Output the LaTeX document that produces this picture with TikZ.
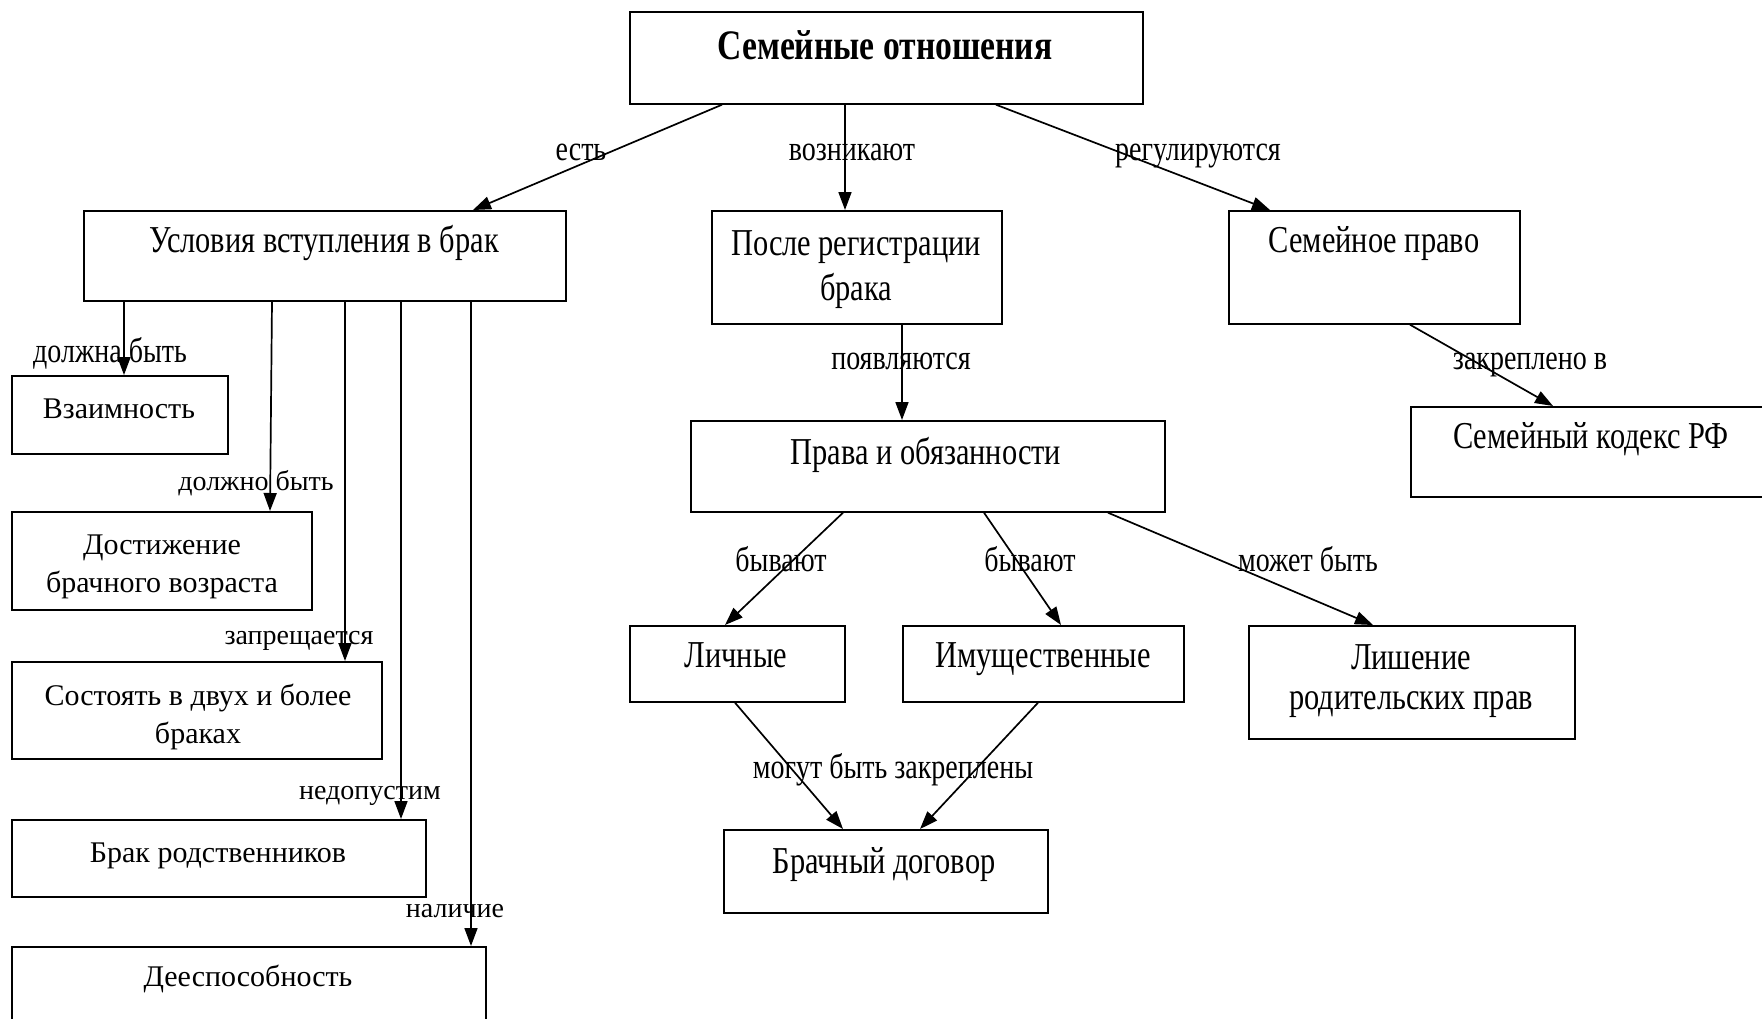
\documentclass[tikz,border=0pt]{standalone}
\usepackage{fontspec}
\setmainfont{Liberation Serif}
\newfontfamily\condf[FakeStretch=0.8]{Liberation Serif}
\usetikzlibrary{arrows.meta,calc}
\begin{document}
\begin{tikzpicture}[x=1pt,y=-1pt,
  box/.style={draw, line width=1.7pt, anchor=north west, inner sep=0pt},
  arr/.style={line width=1.7pt, -{Triangle[length=18pt,width=13pt]}},
  title/.style={font=\condf\bfseries\fontsize{42}{48}\selectfont, inner sep=0pt, text height=30pt, text depth=2pt},
  ctext/.style={font=\condf\fontsize{38}{45}\selectfont, inner sep=0pt, text height=27pt, text depth=2pt},
  ctextm/.style={font=\condf\fontsize{38}{45}\selectfont, inner sep=0pt, align=center},
  ctextn/.style={font=\condf\fontsize{38}{40}\selectfont, inner sep=0pt, align=center},
  ntext/.style={font=\fontsize{30}{39}\selectfont, inner sep=0pt, text height=21pt, text depth=1pt},
  ntextm/.style={font=\fontsize{30}{38}\selectfont, inner sep=0pt, align=center},
  clbl/.style={font=\condf\fontsize{35}{40}\selectfont, inner sep=0pt, text height=24pt, text depth=7pt},
  nlbl/.style={font=\fontsize{28}{32}\selectfont, inner sep=0pt, text height=19pt, text depth=6pt},
]
\useasboundingbox (0,0) rectangle (1762,1018);
\clip (0,0) rectangle (1762,1018);
\fill[white] (0,0) rectangle (1762,1018);
% boxes
\node[box, minimum width=513pt, minimum height=92pt] (top) at (629,11) {};
\node[title] (topT) at (885,45) {Семейные отношения};
\node[box, minimum width=482pt, minimum height=90pt] (usl) at (83,210) {};
\node[ctext] (uslT) at (324,240) {Условия вступления в брак};
\node[box, minimum width=290pt, minimum height=113pt] (posle) at (711,210) {};
\node[ctextm] (posleT) at (856,270) {После регистрации\\брака};
\node[box, minimum width=291pt, minimum height=113pt] (sp) at (1228,210) {};
\node[ctext] (spT) at (1374,240) {Семейное право};
\node[box, minimum width=380pt, minimum height=90pt] (sk) at (1410,406) {};
\node[ctext] (skT) at (1591,436) {Семейный кодекс РФ};
\node[box, minimum width=474pt, minimum height=91pt] (prava) at (690,420) {};
\node[ctext] (pravaT) at (926,452) {Права и обязанности};
\node[box, minimum width=215pt, minimum height=76pt] (lich) at (629,625) {};
\node[ctext] (lichT) at (736,655) {Личные};
\node[box, minimum width=281pt, minimum height=76pt] (im) at (902,625) {};
\node[ctext] (imT) at (1043,655) {Имущественные};
\node[box, minimum width=326pt, minimum height=113pt] (lish) at (1248,625) {};
\node[ctextn] (lishT) at (1411,681) {Лишение\\родительских прав};
\node[box, minimum width=324pt, minimum height=83pt] (bd) at (723,829) {};
\node[ctext] (bdT) at (884,861) {Брачный договор};
% left column
\node[box, minimum width=216pt, minimum height=78pt] (vz) at (11,375) {};
\node[ntext] (vzT) at (119,408) {Взаимность};
\node[box, minimum width=300pt, minimum height=98pt] (dost) at (11,511) {};
\node[ntextm] (dostT) at (162,567) {Достижение\\брачного возраста};
\node[box, minimum width=370pt, minimum height=97pt] (sost) at (11,661) {};
\node[ntextm] (sostT) at (198,717) {Состоять в двух и более\\браках};
\node[box, minimum width=414pt, minimum height=77pt] (brr) at (11,819) {};
\node[ntext] (brrT) at (218,852) {Брак родственников};
\node[box, minimum width=474pt, minimum height=120pt] (dee) at (11,946) {};
\node[ntext] (deeT) at (248,976) {Дееспособность};
% connectors
\draw[arr] ([xshift=93pt]top.south west) -- ([xshift=390pt]usl.north west);
\draw[arr] ([xshift=216pt]top.south west) -- ([xshift=134pt]posle.north west);
\draw[arr] ([xshift=367pt]top.south west) -- ([xshift=42pt]sp.north west);
\draw[arr] ([xshift=41pt]usl.south west) -- ([xshift=113pt]vz.north west);
\draw[arr] ([xshift=189pt]usl.south west) -- ([xshift=259pt]dost.north west);
\draw[arr] ([xshift=262pt]usl.south west) -- ([xshift=334pt]sost.north west);
\draw[arr] ([xshift=318pt]usl.south west) -- ([xshift=390pt]brr.north west);
\draw[arr] ([xshift=388pt]usl.south west) -- ([xshift=460pt]dee.north west);
\draw[arr] ([xshift=191pt]posle.south west) -- ([xshift=212pt]prava.north west);
\draw[arr] ([xshift=182pt]sp.south west) -- ([xshift=143pt]sk.north west);
\draw[arr] ([xshift=153pt]prava.south west) -- ([xshift=96pt]lich.north west);
\draw[arr] ([xshift=294pt]prava.south west) -- ([xshift=159pt]im.north west);
\draw[arr] ([xshift=418pt]prava.south west) -- ([xshift=125pt]lish.north west);
\draw[arr] ([xshift=106pt]lich.south west) -- ([xshift=120pt]bd.north west);
\draw[arr] ([xshift=136pt]im.south west) -- ([xshift=197pt]bd.north west);
% labels
\node[clbl] (l1) at (581,152) {есть};
\node[clbl] (l2) at (852,152) {возникают};
\node[clbl] (l3) at (1198,152) {регулируются};
\node[clbl] (l4) at (110,354) {должна быть};
\node[nlbl] (l5) at (256,484) {должно быть};
\node[nlbl] (l6) at (299,638) {запрещается};
\node[nlbl] (l7) at (370,793) {недопустим};
\node[nlbl] (l8) at (455,911) {наличие};
\node[clbl] (l9) at (901,361) {появляются};
\node[clbl] (l10) at (1530,361) {закреплено в};
\node[clbl] (l11) at (781,563) {бывают};
\node[clbl] (l12) at (1030,563) {бывают};
\node[clbl] (l13) at (1308,563) {может быть};
\node[clbl] (l14) at (893,770) {могут быть закреплены};
\end{tikzpicture}
\end{document}
